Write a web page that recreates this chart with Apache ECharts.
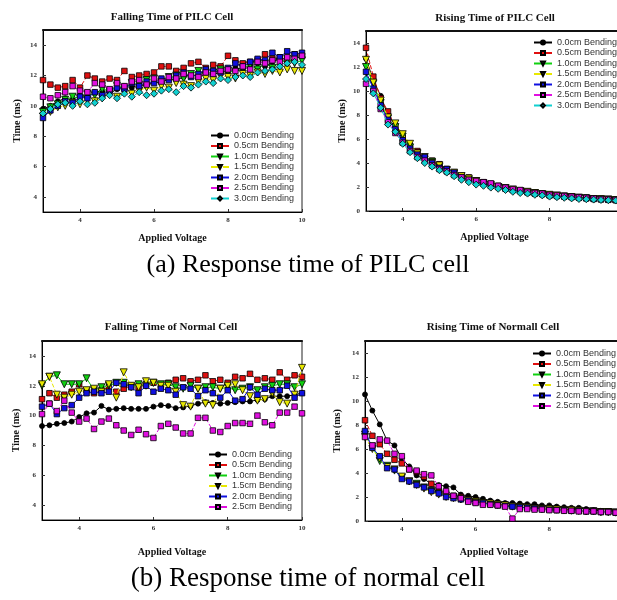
<!DOCTYPE html>
<html><head><meta charset="utf-8">
<script src="https://cdn.jsdelivr.net/npm/echarts@6/dist/echarts.min.js"></script>
<style>html,body{margin:0;padding:0;background:#fff}#c{width:617px;height:600px}</style>
</head><body><div id="c"></div>
<script>
const voltage = [3.0,3.2,3.4,3.6,3.8,4.0,4.2,4.4,4.6,4.8,5.0,5.2,5.4,5.6,5.8,6.0,6.2,6.4,6.6,6.8,7.0,7.2,7.4,7.6,7.8,8.0,8.2,8.4,8.6,8.8,9.0,9.2,9.4,9.6,9.8,10.0];
const bendPILC = ['0.0cm Bending','0.5cm Bending','1.0cm Bending','1.5cm Bending','2.0cm Bending','2.5cm Bending','3.0cm Bending'];
const bendNormal = ['0.0cm Bending','0.5cm Bending','1.0cm Bending','1.5cm Bending','2.0cm Bending','2.5cm Bending'];
const xTicks = [4,6,8,10];
const yTicksFall = [4,6,8,10,12,14];
const yTicksRise = [0,2,4,6,8,10,12,14];
const panelTitles = ['Falling Time of PILC Cell','Rising Time of PILC Cell','Falling Time of Normal Cell','Rising Time of Normall Cell'];
const captions = ['(a) Response time of PILC cell','(b) Response time of normal cell'];

// Falling time of PILC cell
const fallPILC0 = [9.8,10.0,10.3,10.5,10.4,10.7,10.6,10.9,11.0,10.8,11.1,11.3,11.2,11.4,11.3,11.6,11.5,11.8,11.7,11.9,12.1,11.9,12.2,12.0,12.3,12.2,12.5,12.4,12.6,12.8,12.6,12.9,13.1,12.8,13.2,13.2];
const fallPILC1 = [11.7,11.4,11.2,11.3,11.7,11.2,12.0,11.8,11.6,11.8,11.7,12.3,11.9,12.0,12.1,12.2,12.6,12.6,12.3,12.5,12.8,12.9,12.5,12.7,12.6,13.3,13.0,12.8,12.9,13.0,13.4,13.1,13.2,13.0,13.4,13.3];
const fallPILC2 = [9.6,9.9,10.1,10.4,10.6,10.5,10.8,10.7,11.1,11.0,11.3,11.2,11.5,11.4,11.7,11.8,11.6,11.9,12.0,11.8,12.1,12.3,12.0,12.2,12.4,12.3,12.2,12.5,12.7,12.4,12.8,12.5,12.9,13.1,12.8,13.0];
const fallPILC3 = [9.3,9.6,9.9,10.0,10.2,10.1,10.4,10.3,10.5,10.8,10.6,10.9,10.8,11.0,11.2,11.0,11.3,11.2,11.5,11.4,11.3,11.6,11.8,11.7,12.0,11.9,11.8,12.1,12.0,12.2,12.1,12.3,12.2,12.4,12.3,12.3];
const fallPILC4 = [9.2,9.7,10.0,10.3,10.2,10.6,10.5,10.9,10.7,11.0,11.2,11.1,11.5,11.3,11.6,11.5,11.8,11.7,12.0,12.2,11.9,12.1,12.4,12.3,12.2,12.5,12.8,12.6,12.9,13.1,13.0,13.5,13.2,13.6,13.4,13.5];
const fallPILC5 = [10.6,10.5,10.7,10.9,11.3,11.0,10.9,11.5,11.4,11.1,11.5,11.3,11.6,11.7,11.4,11.8,11.6,11.9,11.8,12.1,12.0,11.9,12.2,12.1,12.3,12.4,12.3,12.6,12.4,12.9,12.8,13.0,12.9,13.2,13.1,13.3];
const fallPILC6 = [9.5,9.8,10.1,10.2,10.0,10.3,10.1,10.2,10.5,10.7,10.5,10.8,10.6,10.9,10.7,10.8,11.0,11.1,10.9,11.3,11.2,11.4,11.6,11.5,11.8,11.7,11.9,12.0,11.9,12.2,12.3,12.4,12.6,12.8,12.9,12.7];

// Rising time of PILC cell
const risePILC0 = [12.7,10.9,9.6,8.0,7.2,6.2,5.5,4.9,4.4,4.1,3.8,3.4,3.2,2.9,2.7,2.5,2.3,2.2,2.0,1.9,1.8,1.7,1.6,1.5,1.4,1.35,1.3,1.25,1.2,1.15,1.1,1.05,1.0,0.95,0.92,0.9];
const risePILC1 = [13.6,11.2,9.4,8.3,7.0,6.1,5.4,5.0,4.4,4.2,3.9,3.5,3.2,2.9,2.8,2.5,2.4,2.2,2.1,1.9,1.8,1.7,1.6,1.5,1.45,1.35,1.3,1.25,1.2,1.15,1.1,1.05,1.0,0.97,0.93,0.9];
const risePILC2 = [12.0,10.6,9.0,7.7,7.0,6.2,5.3,4.8,4.3,4.1,3.7,3.4,3.1,2.9,2.6,2.5,2.3,2.1,2.0,1.9,1.75,1.65,1.55,1.5,1.4,1.3,1.25,1.2,1.15,1.1,1.05,1.0,0.98,0.95,0.9,0.88];
const risePILC3 = [12.6,10.7,9.2,7.8,7.3,6.4,5.6,4.8,4.5,4.0,3.8,3.4,3.2,2.9,2.7,2.5,2.3,2.2,2.0,1.9,1.8,1.65,1.6,1.5,1.4,1.35,1.3,1.2,1.15,1.1,1.05,1.0,0.98,0.95,0.9,0.87];
const risePILC4 = [11.6,10.2,8.8,7.6,6.8,5.9,5.2,4.7,4.5,4.0,3.6,3.5,3.2,2.8,2.6,2.4,2.3,2.1,2.0,1.85,1.75,1.65,1.55,1.45,1.4,1.3,1.25,1.2,1.15,1.1,1.05,1.0,0.97,0.93,0.9,0.87];
const risePILC5 = [10.6,10.0,8.5,7.4,6.5,5.7,5.0,4.5,4.2,3.8,3.5,3.3,3.0,2.8,2.6,2.5,2.4,2.3,2.1,1.95,1.8,1.75,1.6,1.5,1.45,1.35,1.3,1.25,1.2,1.15,1.1,1.05,1.0,0.97,0.93,0.9];
const risePILC6 = [11.0,9.8,8.6,7.2,6.6,5.6,4.9,4.4,4.0,3.7,3.4,3.2,2.9,2.6,2.4,2.2,2.1,1.95,1.85,1.75,1.6,1.5,1.45,1.35,1.3,1.2,1.15,1.1,1.05,1.0,0.98,0.95,0.92,0.9,0.87,0.85];

// Falling time of normal cell
const fallNorm0 = [9.3,9.35,9.45,9.5,9.6,9.9,10.15,10.2,10.65,10.4,10.45,10.5,10.45,10.45,10.45,10.6,10.7,10.65,10.5,10.55,10.65,10.8,10.9,10.85,10.8,10.85,10.9,10.95,10.95,11.05,11.1,11.3,11.3,11.3,11.4,11.5];
const fallNorm1 = [11.1,11.5,11.2,11.4,11.6,12.1,11.7,11.5,11.7,11.9,11.6,11.8,12.0,11.9,12.1,12.2,12.0,12.2,12.4,12.5,12.3,12.4,12.7,12.3,12.4,12.2,12.6,12.5,12.8,12.4,12.5,12.4,12.9,12.4,12.7,12.6];
const fallNorm2 = [12.0,12.6,12.7,12.1,12.1,12.1,12.5,11.7,11.9,12.0,12.2,12.2,11.9,12.1,12.0,12.2,12.1,12.1,11.9,11.8,12.0,11.8,11.9,11.9,11.8,11.9,11.7,11.8,11.9,11.7,11.9,12.0,12.1,12.1,11.9,12.1];
const fallNorm3 = [12.1,12.6,11.4,11.2,11.4,11.6,11.7,11.8,11.6,12.1,11.2,12.9,12.0,11.9,12.3,12.2,12.0,12.0,11.6,10.7,10.6,11.8,10.8,10.7,11.8,12.0,12.1,11.7,11.3,11.0,11.1,11.5,10.9,10.8,11.4,13.2];
const fallNorm4 = [10.6,10.8,10.1,10.5,10.7,11.2,11.5,11.6,11.5,11.6,12.2,12.1,11.9,11.5,12.0,11.6,11.8,11.7,11.4,11.9,11.8,11.3,11.7,11.5,11.2,11.7,11.0,11.1,11.9,11.4,11.8,11.7,11.7,12.0,11.2,11.5];
const fallNorm5 = [10.1,10.8,10.3,11.0,10.2,9.6,9.8,9.1,9.6,9.8,9.35,9.0,8.7,9.05,8.75,8.5,9.3,9.45,9.2,8.8,8.8,9.85,9.85,9.0,8.9,9.3,9.5,9.5,9.45,10.0,9.55,9.35,10.2,10.2,10.6,10.15];

// Rising time of normal cell
const riseNorm0 = [10.55,9.2,8.05,6.7,6.3,5.2,4.55,3.8,3.5,3.1,3.0,2.9,2.8,2.2,2.1,2.0,1.85,1.7,1.6,1.5,1.5,1.45,1.4,1.4,1.3,1.3,1.2,1.15,1.1,1.1,1.0,0.9,0.85,0.75,0.75,0.75];
const riseNorm1 = [8.4,7.1,6.4,5.6,5.1,4.8,4.3,4.1,3.7,3.1,2.6,2.3,2.1,2.0,1.8,1.7,1.55,1.45,1.4,1.35,1.25,1.2,1.15,1.1,1.1,1.05,1.0,0.95,0.95,0.9,0.85,0.85,0.8,0.8,0.75,0.75];
const riseNorm2 = [7.2,6.2,5.0,4.6,4.2,3.6,3.3,3.1,2.8,2.5,2.3,2.1,2.0,1.8,1.7,1.6,1.5,1.4,1.35,1.3,1.2,1.15,1.1,1.05,1.0,0.95,0.95,0.9,0.85,0.85,0.8,0.8,0.75,0.75,0.7,0.7];
const riseNorm3 = [7.0,6.0,5.2,4.5,4.3,3.7,3.3,3.0,2.7,2.4,2.2,2.0,1.9,1.8,1.7,1.6,1.5,1.45,1.35,1.3,1.2,1.15,1.1,1.05,1.0,1.0,0.95,0.9,0.9,0.85,0.8,0.8,0.75,0.75,0.7,0.7];
const riseNorm4 = [7.5,6.1,5.4,4.4,4.3,3.5,3.3,3.0,2.8,2.5,2.3,2.0,1.9,1.8,1.7,1.55,1.5,1.4,1.3,1.25,1.2,1.15,1.1,1.05,1.0,0.95,0.9,0.9,0.85,0.85,0.8,0.8,0.75,0.75,0.7,0.7];
const riseNorm5 = [7.0,6.3,6.8,6.7,5.6,5.4,4.3,4.2,3.9,3.8,2.9,2.5,2.1,1.9,1.6,1.5,1.35,1.35,1.3,1.2,0.2,1.0,1.0,0.95,0.95,0.9,0.9,0.85,0.85,0.8,0.8,0.8,0.75,0.75,0.7,0.7];

const panels = [
  {names: bendPILC, data: [fallPILC0,fallPILC1,fallPILC2,fallPILC3,fallPILC4,fallPILC5,fallPILC6], ymin:3, ymax:15, yt: yTicksFall,
   grid:{left:43, top:30, width:259, height:182}, legend:{left:210, top:131}, title:{x:172, y:12}, xg:21, yg:21},
  {names: bendPILC, data: [risePILC0,risePILC1,risePILC2,risePILC3,risePILC4,risePILC5,risePILC6], ymin:0, ymax:15, yt: yTicksRise,
   grid:{left:366, top:31, width:257, height:180}, legend:{left:533, top:38}, title:{x:495, y:13}, xg:21, yg:19},
  {names: bendNormal, data: [fallNorm0,fallNorm1,fallNorm2,fallNorm3,fallNorm4,fallNorm5], ymin:3, ymax:15, yt: yTicksFall,
   grid:{left:42, top:341, width:260, height:179}, legend:{left:208, top:450}, title:{x:171, y:322}, xg:27, yg:21},
  {names: bendNormal, data: [riseNorm0,riseNorm1,riseNorm2,riseNorm3,riseNorm4,riseNorm5], ymin:0, ymax:15, yt: yTicksRise,
   grid:{left:365, top:341, width:258, height:180}, legend:{left:532, top:349}, title:{x:493, y:322}, xg:26, yg:23}
];

const styles = [
  {color:'#000000', symbol:'circle', rot:0, dash:'solid', size:5},
  {color:'#e01010', symbol:'rect', rot:0, dash:'dashed', size:5.5},
  {color:'#10d010', symbol:'triangle', rot:180, dash:'solid', size:7},
  {color:'#e8e800', symbol:'triangle', rot:180, dash:'dashed', size:7},
  {color:'#1010e0', symbol:'rect', rot:0, dash:'solid', size:5.5},
  {color:'#e010e0', symbol:'rect', rot:0, dash:'dashed', size:5.5},
  {color:'#10d0d0', symbol:'diamond', rot:0, dash:'dashed', size:7}
];

const serif = 'Liberation Serif';
const grids = [], xAxes = [], yAxes = [], series = [], legends = [], titles = [];
panels.forEach((p, i) => {
  grids.push(Object.assign({show:true, borderColor:'#222', borderWidth:1, backgroundColor:'#fff', outerBoundsMode:'none', containLabel:false}, p.grid));
  xAxes.push({type:'value', gridIndex:i, min:3, max:10, name:'Applied Voltage', nameLocation:'middle', nameGap:p.xg,
    nameTextStyle:{fontFamily:serif, fontWeight:'bold', fontSize:10, color:'#111'},
    axisLine:{show:true, onZero:false, lineStyle:{color:'#000', width:1}},
    axisTick:{show:true, inside:true, length:3, customValues:xTicks, lineStyle:{color:'#333'}},
    axisLabel:{customValues:xTicks, fontFamily:serif, fontWeight:'bold', fontSize:7, color:'#333', margin:5},
    splitLine:{show:false}});
  xAxes.push({type:'value', gridIndex:i, position:'top', min:3, max:10,
    axisLine:{show:true, onZero:false, lineStyle:{color:'#111', width:2.2}},
    axisTick:{show:false}, axisLabel:{show:false}, splitLine:{show:false}});
  yAxes.push({type:'value', gridIndex:i, min:p.ymin, max:p.ymax, name:'Time (ms)', nameLocation:'middle', nameGap:p.yg,
    nameTextStyle:{fontFamily:serif, fontWeight:'bold', fontSize:10, color:'#111'},
    axisLine:{show:true, onZero:false, lineStyle:{color:'#000', width:1}},
    axisTick:{show:true, inside:true, length:3, customValues:p.yt, lineStyle:{color:'#333'}},
    axisLabel:{customValues:p.yt, fontFamily:serif, fontWeight:'bold', fontSize:7, color:'#333', margin:6},
    splitLine:{show:false}});
  legends.push({orient:'vertical', left:p.legend.left, top:p.legend.top, padding:0, data:p.names, itemWidth:18, itemHeight:5, itemGap:1.5,
    textStyle:{fontFamily:'Liberation Sans', fontSize:9, lineHeight:8.5, color:'#333'}, selectedMode:false});
  titles.push({text:panelTitles[i], left:p.title.x, top:p.title.y, textAlign:'center', padding:0,
    textStyle:{fontFamily:serif, fontWeight:'bold', fontSize:11, color:'#111'}});
  p.data.forEach((vals, k) => {
    const s = styles[k];
    series.push({type:'line', name:p.names[k], xAxisIndex:i*2, yAxisIndex:i,
      data: voltage.map((v, j) => [v, vals[j]]),
      symbol:s.symbol, symbolRotate:s.rot, symbolSize:s.size, showAllSymbol:true,
      lineStyle:{color:s.color, width:1, type:s.dash},
      itemStyle:{color:s.color, borderColor:'#000', borderWidth:0.8},
      emphasis:{disabled:true}, animation:false, clip:true, z:2+k});
  });
});
titles.push({text:captions[0], left:308, top:252, textAlign:'center', padding:0, textStyle:{fontFamily:serif, fontWeight:'normal', fontSize:26, color:'#000'}});
titles.push({text:captions[1], left:308, top:565, textAlign:'center', padding:0, textStyle:{fontFamily:serif, fontWeight:'normal', fontSize:27, color:'#000'}});

const chart = echarts.init(document.getElementById('c'), null, {renderer:'canvas'});
chart.setOption({backgroundColor:'#fff', animation:false, title:titles, legend:legends, grid:grids, xAxis:xAxes, yAxis:yAxes, series:series});
</script></body></html>
